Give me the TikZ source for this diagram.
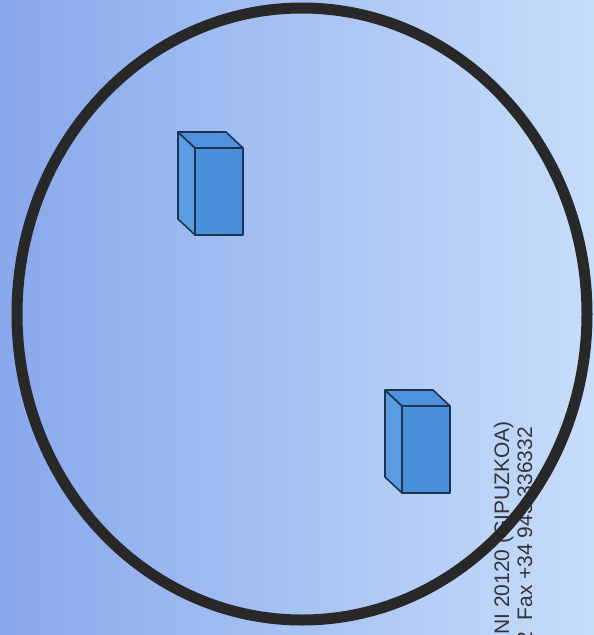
\documentclass[tikz,border=0pt]{standalone}
\usepackage{fontspec}
\setmainfont{Liberation Sans}
\usepackage{tikz}

\definecolor{bgleft}{RGB}{136,168,236}
\definecolor{bgright}{RGB}{198,221,250}
\definecolor{boxfront}{RGB}{74,143,219}
\definecolor{boxside}{RGB}{92,156,226}
\definecolor{boxtop}{RGB}{78,146,221}
\definecolor{boxedge}{RGB}{30,52,78}
\definecolor{ringcol}{RGB}{40,40,40}
\definecolor{inkcol}{RGB}{52,52,56}

\tikzset{
  face/.style={draw=boxedge, line width=1.6pt, line join=round},
  addr/.style={rotate=90, anchor=base east, inner sep=0pt, text=inkcol,
               font=\fontsize{21.0}{25.0}\selectfont},
}

\begin{document}
\begin{tikzpicture}[x=1pt, y=-1pt, line cap=round, line join=round]

  %% ════ 背景渐变 ════
  \shade[left color=bgleft, right color=bgright] (0,0) rectangle (594,635);

  %% ════ 竖排地址（被圆环压住，先画）════
  \node[addr] (addrA) at (509.0,421.0) {NI 20120 (GIPUZKOA)};
  \node[addr] (addrB) at (532.0,427.0) {2\ \ Fax +34 943 336332};

  %% ════ 两个立方块：前面左上角 (\fx,\fy)，宽 47，高 87，纵深 16 ════
  \foreach \fx/\fy in {195.0/148.0, 402.0/406.0}{
    \fill[boxside, face] (\fx-17,\fy-16) -- (\fx,\fy) -- (\fx,\fy+87) -- (\fx-17,\fy+71) -- cycle;
    \fill[boxtop, face] (\fx-17,\fy-16) -- (\fx+31,\fy-16) -- (\fx+48,\fy) -- (\fx,\fy) -- cycle;
    \fill[boxfront, face] (\fx,\fy) rectangle (\fx+48,\fy+87);
  }

  %% ════ 大圆环 ════
  \draw[ringcol, line width=11.0pt] (302.0,314.0) ellipse [x radius=285.0, y radius=306.0];

  % 钉死画布
  \pgfresetboundingbox
  \path[use as bounding box] (0,0) rectangle (594,635);
\end{tikzpicture}
\end{document}
